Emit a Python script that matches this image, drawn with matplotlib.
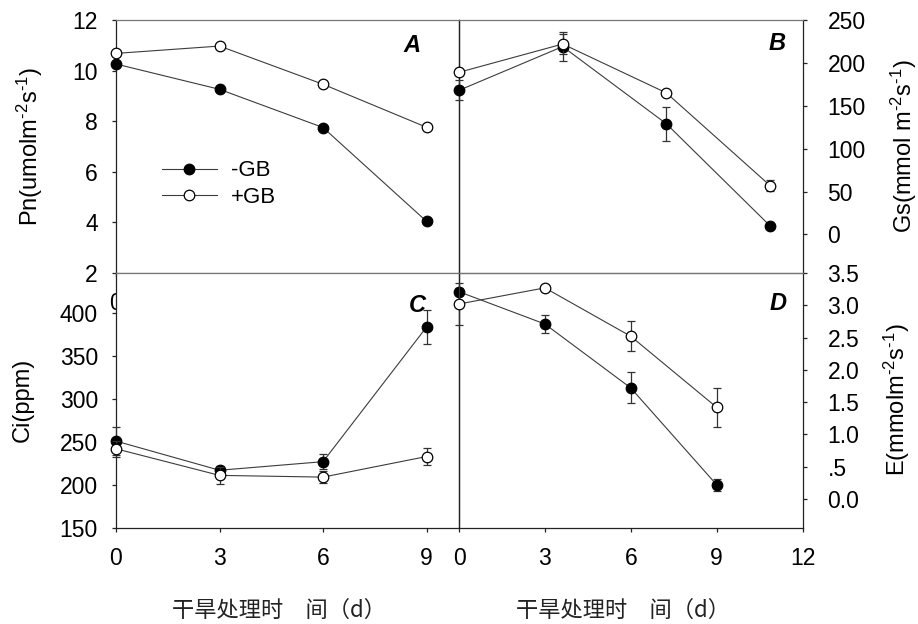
import matplotlib
matplotlib.use("Agg")
import matplotlib.pyplot as plt

plt.rcParams['font.family'] = ['Liberation Sans', 'DejaVu Sans']
plt.rcParams['mathtext.fontset'] = 'custom'
plt.rcParams['mathtext.rm'] = 'Liberation Sans'
plt.rcParams['mathtext.it'] = 'Liberation Sans:italic'
plt.rcParams['mathtext.bf'] = 'Liberation Sans:bold'

# ---------------- data ----------------
days = [0, 3, 6, 9]
series_labels = ['-GB', '+GB']

pn_minus = [10.26, 9.26, 7.75, 4.04]
pn_plus = [10.68, 10.97, 9.46, 7.76]

gs_minus = [168, 219, 129, 10]
gs_minus_err = [11.5, 16.5, 20, 3]
gs_plus = [189, 222, 165, 57]
gs_plus_err = [3, 12, 3, 6]

ci_minus = [251, 217, 227, 384]
ci_minus_err = [16, 5, 9, 20]
ci_plus = [242, 211, 209, 233]
ci_plus_err = [9, 10, 7, 10]

e_minus = [3.21, 2.71, 1.72, 0.22]
e_minus_err = [0.05, 0.14, 0.24, 0.09]
e_plus = [3.02, 3.27, 2.52, 1.42]
e_plus_err = [0.33, 0.03, 0.23, 0.30]

pn_ticks = [2, 4, 6, 8, 10, 12]
gs_ticks = [0, 50, 100, 150, 200, 250]
ci_ticks = [150, 200, 250, 300, 350, 400]
e_ticks = [0.0, 0.5, 1.0, 1.5, 2.0, 2.5, 3.0, 3.5]
e_ticklabels = ['0.0', '.5', '1.0', '1.5', '2.0', '2.5', '3.0', '3.5']
x_ticks_left = [0, 3, 6, 9]
x_ticks_right = [0, 3, 6, 9, 12]

panel_letters = ['A', 'B', 'C', 'D']
ylab_pn = 'Pn(umolm$^{\u20102}$s$^{\u20101}$)'
ylab_gs = 'Gs(mmol m$^{\u20102}$s$^{\u20101}$)'
ylab_ci = 'Ci(ppm)'
ylab_e = 'E(mmolm$^{\u20102}$s$^{\u20101}$)'
xlab = '干旱处理时\u3000间（d）'

# ---------------- layout ----------------
W, H = 918, 624
fig = plt.figure(figsize=(W / 100, H / 100), dpi=100)

def fx(px):
    return px / W

def fy(py):
    return 1 - py / H

X0, XM, X1 = 116, 459, 802.5
Y0, YM, Y1 = 20, 273, 527.7

axA = fig.add_axes([fx(X0), fy(YM), fx(XM) - fx(X0), fy(Y0) - fy(YM)])
axC = fig.add_axes([fx(X0), fy(Y1), fx(XM) - fx(X0), fy(YM) - fy(Y1)])
axB = fig.add_axes([fx(XM), fy(YM), fx(X1) - fx(XM), fy(Y0) - fy(YM)])
axD = fig.add_axes([fx(XM), fy(Y1), fx(X1) - fx(XM), fy(YM) - fy(Y1)])
axA.set_zorder(0)
axC.set_zorder(1)
axB.set_zorder(2)
axD.set_zorder(3)

FS = 16.5
LC = '#3c3c3c'
MS = 7.6

def draw(ax, y_minus, y_plus, err_minus=None, err_plus=None, x=days):
    ax.errorbar(x, y_minus, yerr=err_minus, color=LC, lw=0.8, ecolor='#333333',
                elinewidth=0.9, capsize=3, capthick=0.9, marker='o', ms=MS,
                mfc='black', mec='black', mew=0.9, clip_on=False, zorder=3,
                label=series_labels[0])
    ax.errorbar(x, y_plus, yerr=err_plus, color=LC, lw=0.8, ecolor='#333333',
                elinewidth=0.9, capsize=3, capthick=0.9, marker='o', ms=MS,
                mfc='white', mec='black', mew=0.9, clip_on=False, zorder=4,
                label=series_labels[1])

for ax in (axA, axB, axC, axD):
    for s in ax.spines.values():
        s.set_color('#222222')
        s.set_linewidth(0.9)
    ax.tick_params(direction='out', length=3, width=0.9, labelsize=FS, color='#222222')

# A
draw(axA, pn_minus, pn_plus)
axA.set_xlim(0, 9.94)
axA.set_ylim(2, 12)
axA.set_yticks(pn_ticks)
axA.set_xticks([0])
axA.set_xticklabels(['0'])
axA.tick_params(axis='y', pad=10)
axA.tick_params(axis='x', pad=11)
axA.spines['top'].set_color('#777777')
axA.spines['bottom'].set_color('#777777')

# B
draw(axB, gs_minus, gs_plus, gs_minus_err, gs_plus_err)
axB.set_xlim(0, 9.94)
axB.set_ylim(-45, 250)
axB.yaxis.tick_right()
axB.set_yticks(gs_ticks)
axB.set_xticks([])
axB.tick_params(axis='y', pad=15)
axB.spines['top'].set_color('#777777')
axB.spines['bottom'].set_color('#777777')
axB.patch.set_alpha(0)

# C
draw(axC, ci_minus, ci_plus, ci_minus_err, ci_plus_err)
axC.set_xlim(0, 9.94)
axC.set_ylim(150, 447)
axC.set_yticks(ci_ticks)
axC.set_xticks(x_ticks_left)
axC.tick_params(axis='y', pad=10)
axC.tick_params(axis='x', pad=11)
axC.spines['top'].set_color('#777777')

# D
draw(axD, e_minus, e_plus, e_minus_err, e_plus_err)
axD.set_xlim(0, 12)
axD.set_ylim(-0.445, 3.5)
axD.yaxis.tick_right()
axD.set_yticks(e_ticks)
axD.set_yticklabels(e_ticklabels)
axD.set_xticks(x_ticks_right)
axD.tick_params(axis='y', pad=15)
axD.tick_params(axis='x', pad=11)
axD.spines['top'].set_color('#777777')
axD.patch.set_alpha(0)

# panel letters
for (px, py), letter in zip([(412, 46), (777, 44), (417, 305), (778, 303)], panel_letters):
    fig.text(fx(px), fy(py), letter, fontsize=17, fontweight='bold', fontstyle='italic',
             ha='center', va='center')

# axis labels
fig.text(fx(30), fy(146), ylab_pn, rotation=90, fontsize=17, ha='center', va='center')
fig.text(fx(22.5), fy(400), ylab_ci, rotation=90, fontsize=17, ha='center', va='center')
fig.text(fx(904), fy(146), ylab_gs, rotation=90, fontsize=17, ha='center', va='center')
fig.text(fx(896.5), fy(400), ylab_e, rotation=90, fontsize=17, ha='center', va='center')
for px in (172, 516):
    fig.text(fx(px), fy(610), xlab, fontsize=16, ha='left', va='center',
             family=['Noto Sans CJK SC', 'DejaVu Sans'], color='#222222')

# legend
axA.legend(loc='upper left', bbox_to_anchor=(fx(161.7), fy(160.5)),
           bbox_transform=fig.transFigure, frameon=False, fontsize=16,
           borderpad=0, borderaxespad=0, handlelength=2.5, handletextpad=0.6,
           labelspacing=0.25)

fig.savefig('out.png', dpi=100)
